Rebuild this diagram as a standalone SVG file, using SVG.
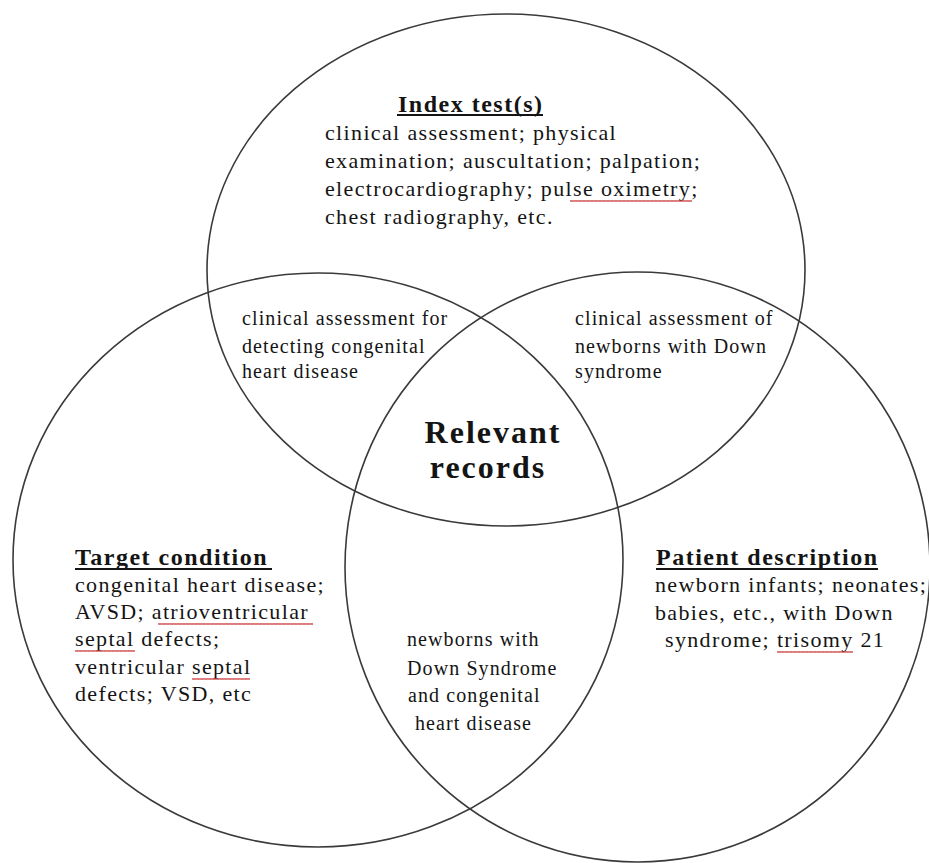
<svg xmlns="http://www.w3.org/2000/svg" width="929" height="863" viewBox="0 0 929 863">
  <defs>
    <style>
      .ring { fill: none; stroke: #3a3a3a; stroke-width: 1.6; }
      .t { fill: #141414; }
      .body { font-size: 22px; letter-spacing: 1.35px; }
      .small { font-size: 20px; letter-spacing: 1.1px; }
      .head { font-size: 24px; font-weight: bold; letter-spacing: 1.5px; }
      .big { font-size: 32px; font-weight: bold; letter-spacing: 2px; }
      .ul { stroke: #141414; stroke-width: 2; }
    </style>
    <pattern id="sq" width="4" height="4" patternUnits="userSpaceOnUse">
      <path d="M0 3 L1 1 L2 3 L3 1 L4 3" fill="none" stroke="#cc3b3b" stroke-width="0.8"/>
    </pattern>
  </defs>
  <rect width="929" height="863" fill="#ffffff"/>

  <g id="circles">
    <ellipse class="ring" cx="506" cy="270" rx="299" ry="256"/>
    <ellipse class="ring" cx="318" cy="560" rx="305" ry="287"/>
    <ellipse class="ring" cx="637.5" cy="567" rx="292.5" ry="295"/>
  </g>

  <g id="connectors"></g>

  <g font-family="'Liberation Serif', 'Times New Roman', 'DejaVu Serif', serif">
  <g id="index-test">
    <text class="t head" x="398" y="112">Index test(s)</text>
    <line class="ul" x1="397" y1="115" x2="543" y2="115"/>
    <text class="t body" x="325" y="140">clinical assessment; physical</text>
    <text class="t body" x="325" y="168">examination; auscultation; palpation;</text>
    <text class="t body" x="325" y="196">electrocardiography; pulse oximetry;</text>
    <text class="t body" x="325" y="224">chest radiography, etc.</text>
    <rect transform="translate(570,199)" width="122" height="4" fill="url(#sq)"/>
  </g>

  <g id="target-condition">
    <text class="t head" x="75" y="565">Target condition</text>
    <line class="ul" x1="75" y1="569" x2="272" y2="569"/>
    <text class="t body" x="75" y="592">congenital heart disease;</text>
    <text class="t body" x="75" y="619">AVSD; atrioventricular</text>
    <text class="t body" x="75" y="646">septal defects;</text>
    <text class="t body" x="75" y="674">ventricular septal</text>
    <text class="t body" x="75" y="701">defects; VSD, etc</text>
    <rect transform="translate(158,622)" width="155" height="4" fill="url(#sq)"/>
    <rect transform="translate(75,649)" width="60" height="4" fill="url(#sq)"/>
    <rect transform="translate(192,677)" width="58" height="4" fill="url(#sq)"/>
  </g>

  <g id="patient-description">
    <text class="t head" x="656" y="565">Patient description</text>
    <line class="ul" x1="656" y1="569" x2="878" y2="569"/>
    <text class="t body" x="655" y="592">newborn infants; neonates;</text>
    <text class="t body" x="655" y="620">babies, etc., with Down</text>
    <text class="t body" x="665" y="647">syndrome; trisomy 21</text>
    <rect transform="translate(777,650)" width="76" height="4" fill="url(#sq)"/>
  </g>

  <g id="overlap-index-target">
    <text class="t small" x="242" y="325">clinical assessment for</text>
    <text class="t small" x="242" y="353">detecting congenital</text>
    <text class="t small" x="242" y="378">heart disease</text>
  </g>

  <g id="overlap-index-patient">
    <text class="t small" x="575" y="325">clinical assessment of</text>
    <text class="t small" x="575" y="353">newborns with Down</text>
    <text class="t small" x="575" y="378">syndrome</text>
  </g>

  <g id="overlap-target-patient">
    <text class="t small" x="407" y="646">newborns with</text>
    <text class="t small" x="407" y="675">Down Syndrome</text>
    <text class="t small" x="408" y="702">and congenital</text>
    <text class="t small" x="415" y="730">heart disease</text>
  </g>

  <g id="relevant-records">
    <text class="t big" x="493" y="443" text-anchor="middle">Relevant</text>
    <text class="t big" x="488" y="478" text-anchor="middle">records</text>
  </g>
  </g>
</svg>
